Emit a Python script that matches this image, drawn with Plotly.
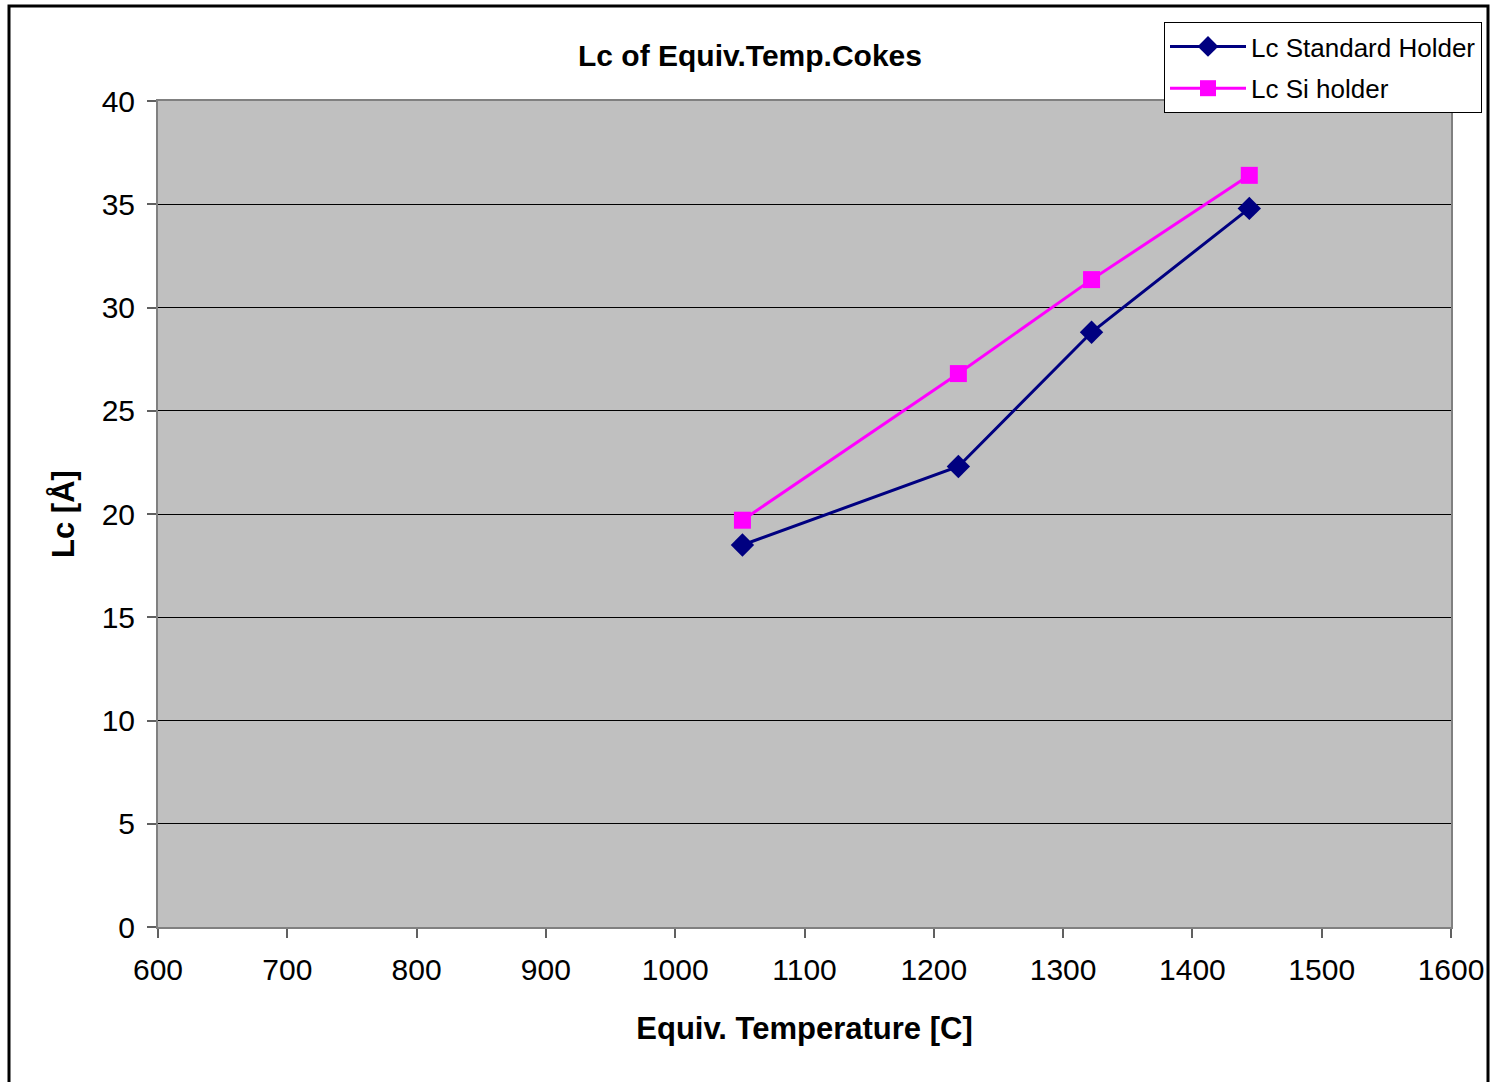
import plotly.graph_objects as go

temps_std = [1052, 1219, 1322, 1444]
lc_std = [18.5, 22.3, 28.8, 34.8]
temps_si = [1052, 1219, 1322, 1444]
lc_si = [19.7, 26.8, 31.35, 36.4]

x_ticks = [600, 700, 800, 900, 1000, 1100, 1200, 1300, 1400, 1500, 1600]
y_ticks = [0, 5, 10, 15, 20, 25, 30, 35, 40]

W, H = 1491, 1082
L, R, T, B = 158, 40, 101, 155
pw, ph = W - L - R, H - T - B

def px(x):
    return (x - L) / pw

def py(y):
    return (H - B - y) / ph

fig = go.Figure()
fig.add_trace(go.Scatter(
    x=temps_std, y=lc_std, mode="lines+markers", name="Lc Standard Holder",
    legendgroup="a",
    line=dict(color="#000080", width=3),
    marker=dict(symbol="diamond", size=18, color="#000080"),
))
fig.add_trace(go.Scatter(
    x=temps_si, y=lc_si, mode="lines+markers", name="Lc Si holder",
    legendgroup="b",
    line=dict(color="#FF00FF", width=3),
    marker=dict(symbol="square", size=17, color="#FF00FF"),
))

font = "Arial, Liberation Sans, sans-serif"

fig.update_layout(
    width=W, height=H,
    margin=dict(l=L, r=R, t=T, b=B, autoexpand=False),
    paper_bgcolor="white",
    plot_bgcolor="#C0C0C0",
    font=dict(family=font, color="black", size=30),
    showlegend=True,
    legend=dict(
        xref="container", yref="container",
        x=1164 / W, y=1 - 22 / H, xanchor="left", yanchor="top",
        bgcolor="white", bordercolor="black", borderwidth=1,
        font=dict(size=26, family=font),
        itemwidth=76, traceorder="grouped", tracegroupgap=5,
    ),
    xaxis=dict(
        range=[600, 1600], tickvals=x_ticks, ticktext=[str(v) for v in x_ticks],
        showgrid=False, zeroline=False, automargin=False,
        showline=True, linecolor="#808080", linewidth=2, mirror=True,
        ticks="outside", ticklen=9, tickcolor="#606060", tickwidth=2,
        tickfont=dict(size=30), ticklabelstandoff=6,
        title=dict(text="<b>Equiv. Temperature [C]</b>", font=dict(size=31), standoff=32),
    ),
    yaxis=dict(
        range=[0, 40], tickvals=y_ticks, ticktext=[str(v) for v in y_ticks],
        showgrid=True, gridcolor="black", gridwidth=1, zeroline=False, automargin=False,
        showline=True, linecolor="#808080", linewidth=2, mirror=True,
        ticks="outside", ticklen=9, tickcolor="#606060", tickwidth=2,
        tickfont=dict(size=30), ticklabelstandoff=6,
        title=dict(text="<b>Lc [Å]</b>", font=dict(size=31), standoff=18),
    ),
    annotations=[dict(
        text="<b>Lc of Equiv.Temp.Cokes</b>", xref="paper", yref="paper",
        x=px(750), y=py(55), xanchor="center", yanchor="middle",
        showarrow=False, font=dict(size=30, family=font),
    )],
    shapes=[dict(
        type="rect", xref="paper", yref="paper",
        x0=px(9), x1=px(1488), y0=py(1100), y1=py(6),
        line=dict(color="black", width=3), fillcolor="rgba(0,0,0,0)",
        layer="above",
    )],
)

fig.write_html("out.html")
